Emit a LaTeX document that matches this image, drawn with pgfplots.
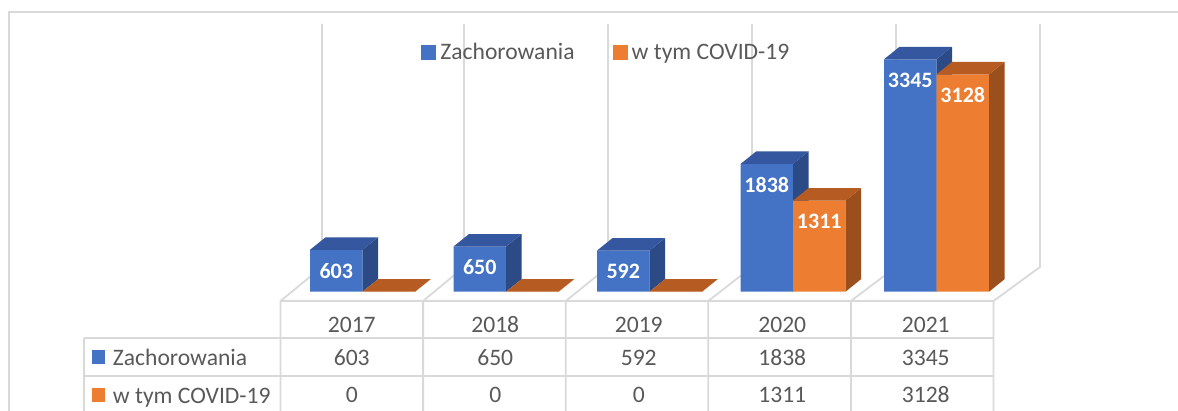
\documentclass[border=0pt]{standalone}
\usepackage{fontspec}
\setmainfont{Carlito}
\usepackage{pgfplots}
\usepackage{pgfplotstable}
\pgfplotsset{compat=1.18}
\pgfplotsset{/pgf/number format/1000 sep={},/pgf/number format/assume math mode=true}

\definecolor{nieb}{HTML}{4472C4}
\definecolor{niebGora}{HTML}{3457A0}
\definecolor{niebBok}{HTML}{2B4A86}
\definecolor{pom}{HTML}{ED7D31}
\definecolor{pomGora}{HTML}{B65C22}
\definecolor{pomBok}{HTML}{9A4F1C}
\definecolor{tekst}{HTML}{595959}
\definecolor{siatka}{HTML}{D9D9D9}

\pgfplotstableread{
i rok zach covid
0 2017 603 0
1 2018 650 0
2 2019 592 0
3 2020 1838 1311
4 2021 3345 3128
}\dane

\newcommand\tekstfont{\fontsize{11.8}{14}\selectfont}

% gorna i boczna sciana slupka 3D (wysokosc z wartosci punktu)
\newcommand\kostka[3]{%
  \pgfmathsetmacro\kL{#1}\pgfmathsetmacro\kR{#1+26.25}%
  \pgfmathsetmacro\kLd{#1+7.75}\pgfmathsetmacro\kRd{#1+34}%
  \pgfmathsetmacro\kH{-\kWart*0.03475}\pgfmathsetmacro\kHd{6.25-\kWart*0.03475}%
  \pgfsetfillcolor{#3}%
  \pgfpathmoveto{\pgfpoint{\kR pt}{0pt}}%
  \pgfpathlineto{\pgfpoint{\kRd pt}{6.25pt}}%
  \pgfpathlineto{\pgfpoint{\kRd pt}{\kHd pt}}%
  \pgfpathlineto{\pgfpoint{\kR pt}{\kH pt}}%
  \pgfpathclose\pgfusepath{fill}%
  \pgfsetfillcolor{#2}%
  \pgfpathmoveto{\pgfpoint{\kL pt}{0pt}}%
  \pgfpathlineto{\pgfpoint{\kR pt}{0pt}}%
  \pgfpathlineto{\pgfpoint{\kRd pt}{6.25pt}}%
  \pgfpathlineto{\pgfpoint{\kLd pt}{6.25pt}}%
  \pgfpathclose\pgfusepath{fill}%
}
\pgfdeclareplotmark{kostkaZ}{\kostka{-26.25}{niebGora}{niebBok}}
\pgfdeclareplotmark{kostkaC}{\kostka{0}{pomGora}{pomBok}}

\begin{document}
\begin{tikzpicture}
% tlo: ramka, sciana, podloga, tabela (1 jednostka = 1 px obrazu)
\begin{scope}[x=0.5pt,y=-0.5pt,line width=0.9pt,draw=siatka]
 \draw (9,430) -- (9,12) -- (1190,12);
 \foreach \a/\b in {280.5/322,423.1/464,565.7/608,708.3/752,850.9/896,993.5/1040}
   \draw (\b,24) -- (\b,267) -- (\a,301) -- (\a,430);
 \draw (280.5,301) -- (993.5,301);
 \draw (84,338) -- (993.5,338);
 \draw (84,376) -- (993.5,376);
 \draw (84,338) -- (84,430);
 \fill[nieb] (92,350) rectangle (104.5,364);
 \fill[pom] (92,388) rectangle (104.5,402);
 \node[anchor=base west,inner sep=0pt,text=tekst,font=\tekstfont] at (112,365) {Zachorowania};
 \node[anchor=base west,inner sep=0pt,text=tekst,font=\tekstfont] at (112,403) {w tym COVID-19};
\end{scope}

\begin{axis}[
  x=71.75pt,y=0.03475pt,
  xmin=-2.5,xmax=5.5,ymin=-1720,ymax=4200,
  hide axis,clip=false,clip marker paths=true,
  anchor=origin,at={(181.25pt,-145.85pt)},
  legend columns=2,
  legend style={at={(0.5258,0.871)},anchor=center,draw=none,fill=none,
    font=\tekstfont,text=tekst,inner sep=0pt,
    /tikz/every even column/.append style={column sep=17pt}},
  ]
 \addplot[ybar,bar width=26.25pt,bar shift=-13.125pt,fill=nieb,draw=none,
   visualization depends on={\thisrow{zach}\as\wart},
   nodes near coords={\ifdim\wart pt>0pt \pgfmathprintnumber{\wart}\fi},
   every node near coord/.append style={anchor=center,xshift=-13.125pt,yshift=-10.5pt,text=white,font=\fontsize{11}{13}\selectfont\bfseries},
   legend image code/.code={\fill[nieb] (0pt,-3.75pt) rectangle (7.5pt,3.75pt);}]
   table[x=i,y=zach]{\dane};
 \addlegendentry{Zachorowania}
 \addplot[scatter,only marks,mark=kostkaZ,forget plot,
   visualization depends on={\thisrow{zach}\as\kWart}]
   table[x=i,y=zach]{\dane};
 \addplot[ybar,bar width=26.25pt,bar shift=13.125pt,fill=pom,draw=none,
   visualization depends on={\thisrow{covid}\as\wart},
   nodes near coords={\ifdim\wart pt>0pt \pgfmathprintnumber{\wart}\fi},
   every node near coord/.append style={anchor=center,xshift=13.125pt,yshift=-10.5pt,text=white,font=\fontsize{11}{13}\selectfont\bfseries},
   legend image code/.code={\fill[pom] (0pt,-3.75pt) rectangle (7.5pt,3.75pt);}]
   table[x=i,y=covid]{\dane};
 \addlegendentry{w tym COVID-19}
 \addplot[scatter,only marks,mark=kostkaC,forget plot,
   visualization depends on={\thisrow{covid}\as\kWart}]
   table[x=i,y=covid]{\dane};
 % tabela danych pod wykresem
 \addplot[draw=none,mark=none,forget plot,point meta=explicit,nodes near coords,
   every node near coord/.append style={anchor=base,text=tekst,font=\tekstfont}]
   table[x expr=\thisrow{i}-0.075,y expr=-594,meta=rok]{\dane};
 \addplot[draw=none,mark=none,forget plot,point meta=explicit,nodes near coords,
   every node near coord/.append style={anchor=base,text=tekst,font=\tekstfont}]
   table[x expr=\thisrow{i}-0.075,y expr=-1069,meta=zach]{\dane};
 \addplot[draw=none,mark=none,forget plot,point meta=explicit,nodes near coords,
   every node near coord/.append style={anchor=base,text=tekst,font=\tekstfont}]
   table[x expr=\thisrow{i}-0.075,y expr=-1601,meta=covid]{\dane};
\end{axis}
\pgfresetboundingbox
\path[use as bounding box] (0,0) rectangle (589pt,-205.5pt);
\end{tikzpicture}
\end{document}
